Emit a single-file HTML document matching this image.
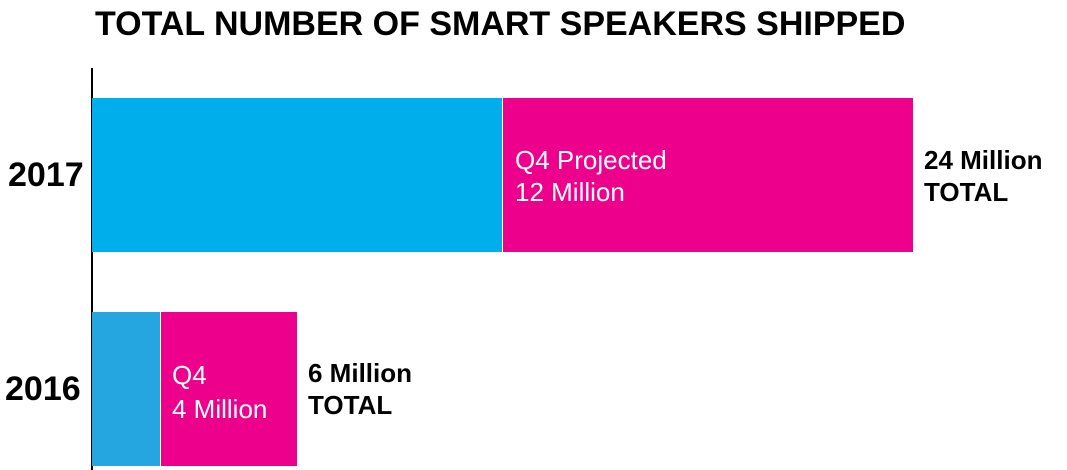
<!DOCTYPE html>
<html><head><style>
body{margin:0;width:1067px;height:470px;background:#fff;position:relative;overflow:hidden;font-family:"Liberation Sans",sans-serif}
div{position:absolute}
.t{white-space:nowrap;line-height:1}
</style></head><body>
<div class="t" style="left:95px;top:7px;font-size:34px;font-weight:bold;color:#000;letter-spacing:0px">TOTAL NUMBER OF SMART SPEAKERS SHIPPED</div>
<div style="left:91px;top:68px;width:2px;height:402px;background:#000"></div>
<div style="left:92px;top:98px;width:410px;height:154px;background:#00aeeb"></div>
<div style="left:503px;top:98px;width:410px;height:154px;background:#ec008c"></div>
<div style="left:92px;top:312px;width:68px;height:154px;background:#25a6e0"></div>
<div style="left:161px;top:312px;width:136px;height:154px;background:#ec008c"></div>
<div class="t" style="left:8px;top:158px;font-size:34px;font-weight:bold">2017</div>
<div class="t" style="left:5px;top:372px;font-size:34px;font-weight:bold">2016</div>
<div class="t" style="left:515px;top:144px;font-size:26px;color:#fff;line-height:32px">Q4 Projected<br>12 Million</div>
<div class="t" style="left:172px;top:358px;font-size:26px;color:#fff;line-height:34px">Q4<br>4 Million</div>
<div class="t" style="left:924px;top:144px;font-size:26px;font-weight:bold;line-height:32px">24 Million<br>TOTAL</div>
<div class="t" style="left:308px;top:357px;font-size:26px;font-weight:bold;line-height:32px">6 Million<br>TOTAL</div>
</body></html>
